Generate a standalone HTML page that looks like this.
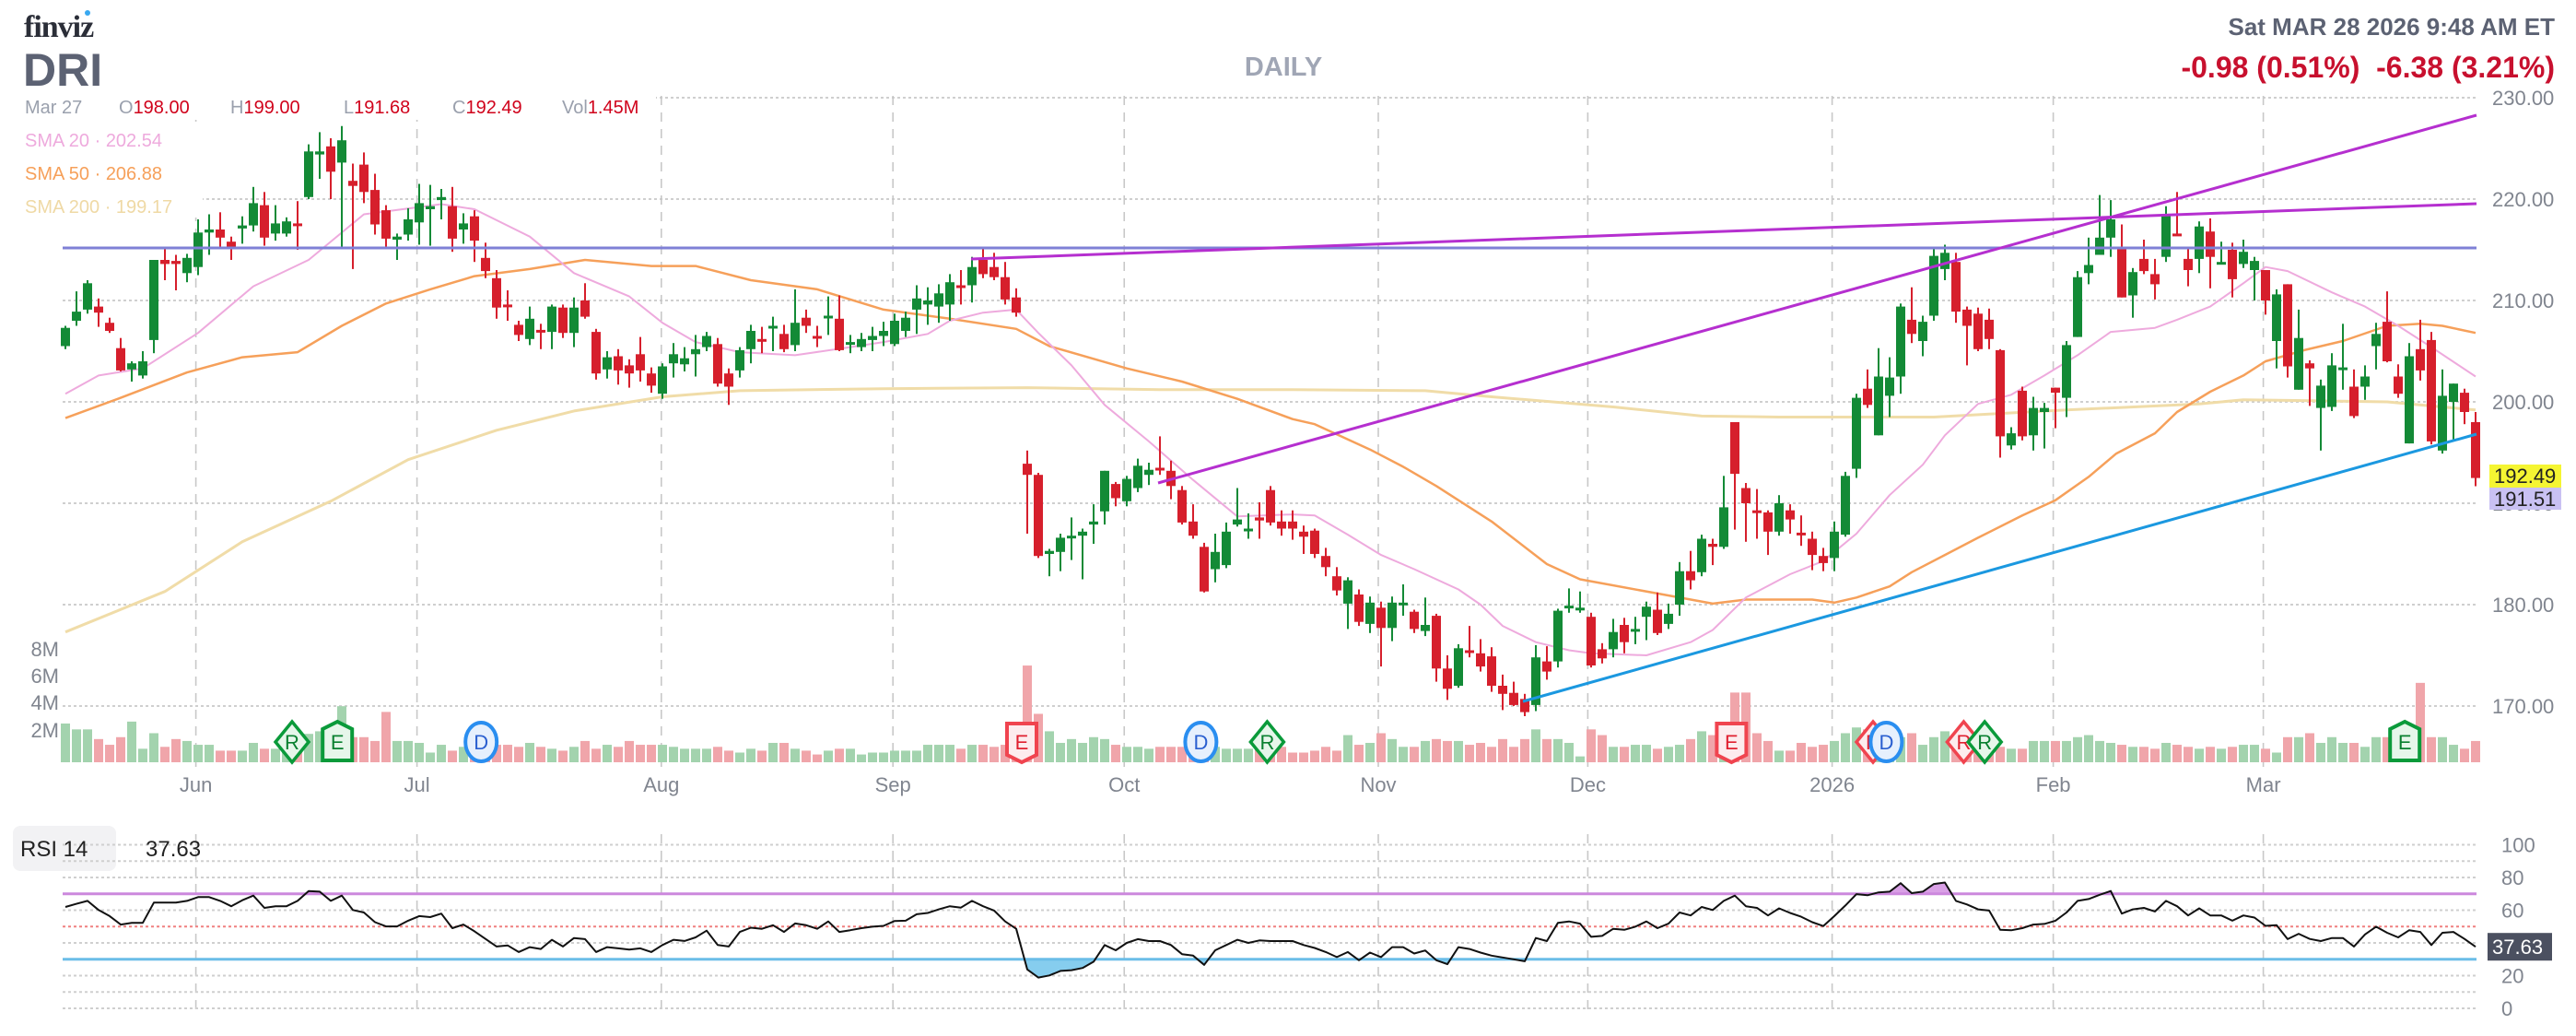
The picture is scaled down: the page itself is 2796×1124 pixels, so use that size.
<!DOCTYPE html>
<html><head><meta charset="utf-8">
<style>
html,body{margin:0;padding:0;background:#fff;}
svg{display:block;font-family:"Liberation Sans",sans-serif;}
</style></head>
<body>
<svg id="chart" width="2796" height="1124" viewBox="0 0 2796 1124" xmlns="http://www.w3.org/2000/svg">
  <rect x="0" y="0" width="2796" height="1124" fill="#fff"/>
  <g id="grid"></g>
  <g id="smas"></g>
  <g id="vols"></g>
  <g id="candles"></g>
  <g id="trend">
    <line x1="68" y1="269" x2="2688" y2="269" stroke="#7f80d6" stroke-width="3"/>
    <line x1="1054" y1="281" x2="2688" y2="221" stroke="#b52fcf" stroke-width="3"/>
    <line x1="1257" y1="524" x2="2688" y2="125" stroke="#b52fcf" stroke-width="3"/>
    <line x1="1653" y1="761" x2="2688" y2="471" stroke="#1b98e0" stroke-width="3"/>
  </g>
  <g id="markers"></g>
  <g id="rsi"></g>
  <g id="labels">
    <text x="26" y="40" font-family="Liberation Serif,serif" font-weight="bold" font-size="34" fill="#2b2e38" letter-spacing="-1">finviz</text>
    <circle cx="95" cy="14" r="3" fill="#39a8f0"/>
    <text x="25" y="93" font-weight="bold" font-size="50" fill="#5c6273">DRI</text>
    <text x="1393" y="82" text-anchor="middle" font-weight="bold" font-size="29" fill="#a0a6b5">DAILY</text>
    <text x="2773" y="38" text-anchor="end" font-weight="bold" font-size="26" fill="#5c6273">Sat MAR 28 2026 9:48 AM ET</text>
    <text x="2773" y="84" text-anchor="end" font-weight="bold" font-size="32" fill="#c8102e" xml:space="preserve">-0.98 (0.51%)  -6.38 (3.21%)</text>
    <rect x="20" y="104" width="692" height="26" fill="#fff"/>
    <text font-size="20" y="123"><tspan x="27" fill="#9aa0ad">Mar 27</tspan><tspan x="129" fill="#9aa0ad">O</tspan><tspan fill="#d0021b">198.00</tspan><tspan x="250" fill="#9aa0ad">H</tspan><tspan fill="#d0021b">199.00</tspan><tspan x="373" fill="#9aa0ad">L</tspan><tspan fill="#d0021b">191.68</tspan><tspan x="491" fill="#9aa0ad">C</tspan><tspan fill="#d0021b">192.49</tspan><tspan x="610" fill="#9aa0ad">Vol</tspan><tspan fill="#d0021b">1.45M</tspan></text>
    <rect x="20" y="140" width="200" height="96" fill="#fff"/>
    <text x="27" y="159" font-size="20" fill="#eeaadd">SMA 20 · 202.54</text>
    <text x="27" y="195" font-size="20" fill="#f6a05a">SMA 50 · 206.88</text>
    <text x="27" y="231" font-size="20" fill="#efd9a5">SMA 200 · 199.17</text>
  </g>
</svg>
<script>
const open_=[205.5,208.0,209.1,209.4,207.8,205.3,203.2,202.6,206.1,214.0,213.9,212.7,213.3,216.7,217.0,215.8,217.1,217.4,219.4,216.6,216.6,217.6,220.2,224.4,225.2,223.6,221.8,223.4,220.9,218.9,216.0,216.5,217.7,219.0,219.9,219.3,217.0,218.3,214.2,212.2,209.6,207.6,206.2,207.1,206.9,209.3,206.8,210.0,206.9,203.2,204.5,203.6,204.7,202.8,200.8,203.8,203.7,204.7,205.4,205.7,202.8,203.1,205.2,206.2,207.3,206.7,205.6,208.3,206.5,208.3,208.2,205.8,205.4,206.1,206.5,205.7,207.0,209.1,209.6,209.4,209.6,211.5,211.5,214.0,213.3,212.3,210.3,193.9,192.8,185.0,185.2,186.7,186.8,187.9,189.2,191.9,190.2,191.5,192.8,193.5,193.2,191.3,188.2,185.7,183.5,183.9,187.9,187.4,188.6,191.3,188.2,188.2,187.2,187.3,184.8,182.8,180.1,181.0,178.1,179.7,177.7,180.1,179.3,177.4,178.9,173.7,172.0,175.5,175.2,174.9,172.0,171.3,170.7,170.1,174.4,174.4,179.8,179.6,178.8,175.6,175.6,178.0,177.5,178.8,179.5,178.1,180.0,183.3,183.2,186.0,185.7,198.0,191.5,189.3,189.1,187.2,189.3,187.1,186.5,184.8,184.6,186.9,193.4,201.3,196.7,200.6,202.5,208.1,206.0,208.5,213.1,213.8,209.1,208.7,208.1,205.1,195.7,201.1,196.7,199.0,201.4,200.4,206.4,212.7,214.5,216.2,215.1,210.5,214.1,212.6,214.3,216.6,214.1,214.1,216.8,213.6,215.0,213.6,213.0,213.0,206.0,211.6,201.2,203.8,199.4,199.5,203.3,201.5,201.5,205.5,207.9,202.5,195.9,205.2,206.1,195.2,200.0,200.9,198.0];
const high=[207.5,210.9,212.0,210.2,208.3,206.3,204.0,205.0,214.0,215.3,214.5,214.6,218.0,218.5,218.7,216.3,218.3,221.2,220.7,219.4,218.2,219.8,225.4,226.6,226.0,227.2,223.5,224.6,222.5,219.4,216.6,219.1,221.5,221.4,221.0,221.2,218.6,218.9,215.7,213.0,211.0,208.0,209.4,207.7,209.6,209.6,210.3,211.7,207.2,205.0,205.2,204.2,206.4,203.4,203.8,205.8,205.4,206.6,206.9,206.3,203.3,205.4,207.6,207.4,208.4,207.6,211.1,209.1,207.5,210.4,210.5,206.6,206.8,207.4,207.9,208.7,208.9,211.5,211.3,211.6,212.6,213.0,214.3,215.3,214.7,213.8,211.2,195.2,193.0,185.5,187.0,188.6,187.5,189.9,193.2,192.1,192.7,194.4,194.0,196.6,194.2,191.7,189.9,186.1,187.0,188.1,191.5,189.0,190.1,191.7,189.3,189.3,187.8,187.5,185.6,183.7,182.7,181.5,180.8,180.3,180.8,182.0,179.5,180.7,179.1,175.0,176.1,177.9,176.6,175.8,173.1,172.4,171.2,176.0,175.9,179.6,181.6,181.3,179.2,176.2,178.6,178.7,178.8,180.3,181.2,180.1,184.2,185.3,186.9,186.5,192.7,198.0,192.0,191.4,189.3,190.8,189.9,188.8,187.2,185.6,188.2,193.1,200.8,203.2,205.3,204.4,209.7,211.3,208.5,215.3,215.5,214.7,209.4,209.3,209.2,205.2,197.5,201.5,200.5,199.9,201.4,206.0,212.9,216.2,220.4,219.9,217.5,213.2,216.0,214.1,219.3,220.7,215.2,217.8,218.1,215.8,215.7,216.0,214.3,213.0,211.1,211.6,209.1,204.1,202.2,204.8,207.7,203.2,203.6,207.8,210.9,203.7,205.8,208.1,206.9,203.2,201.8,201.3,199.0];
const low=[205.2,207.5,208.7,207.4,206.8,203.0,202.0,202.3,204.8,212.0,211.0,211.8,212.5,214.5,215.3,214.0,215.6,216.8,215.4,215.9,216.3,215.0,220.0,222.0,220.0,215.2,213.1,219.6,216.5,215.2,214.0,215.9,215.5,215.4,218.0,214.8,215.6,213.8,212.2,208.2,208.0,206.0,205.6,205.2,205.2,206.3,205.4,208.2,202.2,202.3,201.7,201.4,202.0,200.9,200.3,202.4,203.0,202.5,205.0,201.5,199.7,202.4,203.8,204.8,205.0,204.9,205.0,206.8,205.4,206.6,205.0,204.8,205.0,205.0,205.5,205.5,206.4,206.7,207.6,207.8,208.0,209.6,209.8,212.2,212.0,209.6,208.4,187.0,184.6,182.8,183.3,184.4,182.5,186.0,187.9,189.7,189.7,191.1,191.8,192.8,190.4,187.9,186.5,181.2,182.2,183.6,187.7,186.5,186.5,187.8,186.8,186.4,185.0,184.6,182.8,180.9,177.6,177.9,177.2,173.9,176.4,178.9,177.2,176.9,172.4,170.6,171.8,174.8,173.4,171.4,169.6,170.0,169.0,169.5,172.6,173.8,179.2,179.2,173.8,174.2,174.8,175.2,176.1,176.5,177.0,177.6,178.9,181.5,182.8,183.9,185.5,187.4,186.2,186.5,184.9,186.8,187.0,185.8,183.4,183.3,183.3,186.7,192.5,199.4,196.7,198.5,200.8,205.8,204.5,208.0,212.0,207.8,203.6,205.0,205.2,194.5,195.3,196.2,195.2,195.4,197.4,198.5,206.4,211.6,214.5,214.3,210.3,208.3,212.6,210.1,213.8,216.5,211.4,212.7,211.2,213.6,210.3,213.2,210.0,208.6,203.3,202.4,201.2,199.6,195.2,199.1,201.2,198.4,200.2,203.2,203.9,200.4,195.9,202.1,195.8,194.9,196.1,197.8,191.68];
const close=[207.3,208.9,211.7,208.8,207.0,203.1,203.8,204.0,214.0,213.6,213.6,214.2,216.7,217.0,216.2,215.1,217.4,219.6,216.2,217.6,217.8,217.5,224.7,224.7,222.7,225.8,221.3,220.7,217.5,216.1,216.3,218.0,219.6,219.3,220.2,216.1,217.6,215.9,212.9,209.3,209.5,206.6,208.2,207.0,209.4,206.8,209.3,208.4,202.8,204.4,203.1,202.8,203.1,201.6,203.5,204.7,204.3,205.2,206.5,201.8,201.5,205.1,207.0,206.0,207.5,205.2,207.8,207.5,206.4,208.5,205.1,205.9,206.2,206.5,207.0,208.0,208.3,210.2,210.0,210.7,211.8,211.4,213.3,212.6,212.3,210.1,208.8,192.8,184.8,185.3,186.6,186.8,187.2,188.2,193.2,190.5,192.4,193.7,193.3,193.4,191.7,188.1,186.8,181.3,185.2,187.2,188.4,187.5,188.3,188.1,187.5,187.5,186.7,185.0,183.7,181.4,182.4,178.3,180.2,177.7,180.2,180.2,177.6,178.0,173.7,171.7,175.7,175.4,173.9,172.0,171.2,170.1,169.4,174.8,173.4,179.4,179.9,179.7,174.0,174.7,177.3,176.3,177.6,179.8,177.2,179.1,183.3,182.4,186.5,185.7,189.6,192.9,190.0,189.2,187.2,190.0,188.4,187.0,184.9,184.1,187.2,192.7,200.4,199.7,202.5,202.4,209.4,206.7,207.9,214.4,214.7,208.9,207.5,205.2,206.2,196.6,196.9,196.6,199.4,199.4,200.9,205.6,212.3,213.5,216.2,218.0,210.3,212.8,212.9,211.6,218.5,216.5,213.0,217.3,214.3,213.8,212.1,214.8,213.9,210.0,210.6,203.5,206.3,203.3,201.6,203.6,203.4,198.6,202.5,206.7,204.0,200.8,204.5,203.1,196.1,200.6,201.8,199.0,192.49];
const volumeM=[2.84,2.41,2.41,1.70,1.28,1.84,2.98,0.99,2.13,1.13,1.70,1.56,1.28,1.28,0.85,0.85,0.85,1.42,0.99,0.99,0.85,1.13,2.08,2.27,1.13,4.11,1.84,1.84,1.56,3.69,1.56,1.56,1.42,0.71,1.28,0.85,1.13,0.99,1.28,1.28,1.28,1.13,1.42,1.13,0.99,0.85,1.13,1.56,0.99,1.28,1.13,1.56,1.28,1.28,1.28,1.13,0.99,0.99,0.99,1.13,0.85,0.71,0.99,0.85,1.42,1.42,0.99,0.85,0.57,0.85,0.99,0.99,0.57,0.71,0.71,0.85,0.85,0.85,1.28,1.28,1.28,0.99,1.28,1.28,1.13,1.28,1.13,7.09,3.55,2.27,1.42,1.70,1.42,1.84,1.70,1.28,1.13,1.13,0.99,1.13,1.13,1.13,1.13,1.13,1.13,0.99,0.99,0.99,0.99,1.13,1.13,0.71,0.71,0.85,1.13,0.85,1.99,1.28,1.42,2.13,1.70,1.13,1.13,1.56,1.70,1.56,1.56,1.28,1.42,1.13,1.70,1.13,1.70,2.41,1.70,1.70,1.42,0.43,2.41,1.99,1.13,1.13,1.28,1.28,0.99,1.13,1.28,1.70,2.27,1.99,1.13,5.11,5.11,2.13,1.56,0.85,0.85,1.42,1.13,1.28,1.56,2.13,2.55,2.41,1.84,1.84,1.84,2.13,1.28,1.84,2.27,1.42,0.99,1.28,1.28,1.13,0.99,0.99,1.56,1.56,1.56,1.56,1.84,1.99,1.56,1.42,1.28,1.13,1.13,0.99,1.42,1.28,1.13,0.99,1.13,0.99,1.13,1.28,1.28,0.99,0.71,1.84,1.84,2.13,1.42,1.84,1.42,1.42,1.13,1.84,1.84,0.99,1.84,5.82,1.84,1.84,1.28,0.99,1.56];
const rsiValues=[62,63.9,65.7,60.1,56.4,51.2,52.3,52.3,64.6,64.6,64.6,65.7,68,68,65.7,62.4,66.1,68.9,61.4,62.4,62.4,65.7,71.7,71.3,65.7,68.9,60.1,58.6,52.7,50.1,50.1,53.6,56.4,55.8,57.9,49,51.2,47.1,42.4,37.8,38.5,34.4,37.4,36.3,41.9,37.8,43,42.3,34.4,37.4,36.7,35.9,36.7,34.4,38.7,41.9,41.2,43.4,47.5,38.7,37.8,46.7,49.3,48.6,50.8,46.7,51.9,50.8,48.6,53.1,46.7,47.8,49,49.9,50.4,53.4,53.6,57.5,58.3,60.5,62.4,61.6,65.7,62.4,59.8,53.1,48.6,23.8,18.8,20.1,22.9,23.3,24.7,28.5,38.7,35.5,40,42.3,41.1,41.1,38.7,33.1,32.2,26.6,35.5,38.7,41.9,40,41.5,41.1,41.1,41.1,38.7,36.9,34.4,31.3,34.4,29.4,34.1,31.3,37.4,37.4,33.5,35.4,29.4,27,37.4,36.3,34.1,32.2,31.1,30,28.8,43,41.1,52.3,53.1,51.8,43.7,44.3,48.6,48,49.9,53.1,49,51.8,58.6,56.8,62,60.1,65.7,68.9,62.4,61.4,56.8,61.1,58.3,56,52.7,50.3,56.4,62.9,69.8,69.1,70.9,71.3,76.5,70.4,71.3,76,76.9,65.7,63.5,60.5,59.8,48,47.7,49,51.2,51.6,53.6,58.6,65.7,66.8,69.4,71.7,57.9,60.5,61.4,59.2,65.7,62.4,56.8,61.1,56.8,56.8,53.6,56.8,55.5,50.4,50.8,42.3,45.6,42.4,41.1,43,43,37.8,45.2,49.9,46.2,43.4,47.8,46.7,38.7,46.2,46.7,42.4,37.63];
const sma20=[[1,200.8],[4,202.6],[8,203.3],[13,206.8],[18,211.4],[23,214],[28,218.5],[35,219.5],[38,219],[43,216.3],[47,212.7],[52,210.4],[55,207.8],[58,205.9],[62,204.9],[67,204.6],[72,205.4],[75,205.9],[79,206.7],[81,208],[84,208.8],[87,209.1],[89,206.8],[92,203.6],[95,199.7],[99,196.1],[103,192.3],[107,188.7],[112,188.9],[114,188.8],[117,186.9],[120,184.9],[123,183.5],[127,181.5],[129,180],[131,177.9],[134,176.3],[137,175.5],[139,175.2],[144,175],[148,176.3],[150,177.5],[153,180.7],[157,183],[160,184.3],[163,187],[166,190.8],[169,193.8],[171,196.7],[174,199.8],[177,200.7],[180,202.6],[183,204.6],[186,206.9],[190,207.3],[192,208.1],[195,209.4],[198,211.7],[200,213.3],[202,212.9],[206,210.8],[209,209.4],[212,207.5],[215,205.4],[219,202.5]];
const sma50=[[1,198.4],[6,200.4],[12,202.9],[17,204.4],[22,204.9],[26,207.5],[30,209.7],[34,211.1],[38,212.4],[43,213.1],[48,214],[54,213.4],[58,213.4],[63,212],[69,211.1],[75,209.1],[81,208.2],[87,207.2],[90,205.5],[97,203.3],[102,202],[107,200.3],[112,198.3],[114,197.8],[119,195.3],[122,193.6],[125,191.7],[130,188.2],[135,184],[138,182.5],[145,181.1],[150,180.1],[153,180.5],[159,180.5],[161,180.2],[163,180.7],[166,181.8],[168,183.2],[171,184.9],[174,186.6],[178,188.8],[181,190.3],[184,192.6],[186.5,194.9],[190,196.9],[192,199],[195,201],[198,202.6],[200,204],[203.5,205.1],[207,206],[211,207.5],[214,207.7],[216,207.5],[219,206.8]];
const sma200=[[1,177.3],[10,181.3],[17,186.2],[25,190.2],[32,194.3],[40,197.2],[47,199.1],[55,200.5],[62,201.1],[75,201.3],[88,201.4],[100,201.2],[112,201.2],[124,201.1],[130,200.5],[141,199.5],[149,198.6],[156,198.5],[170,198.5],[175,198.8],[182,199.2],[194,199.8],[198,200.2],[205,200.1],[211,200],[219,199.2]];
const priceTicks=[230,220,210,200,190,180,170];
const volTicks=["8M","6M","4M","2M"];
const monthLabels=["Jun","Jul","Aug","Sep","Oct","Nov","Dec","2026","Feb","Mar"];
const monthIndex=[12.8,32.8,54.9,75.85,96.77,119.75,138.7,160.8,180.8,199.8];
const rsiTicks=[100,80,60,40,20,0];
const markerTypes=["R","E","D","E","D","R","E","Rr","D","Rr","R","E"];
const markerColors=["g","gu","b","r","b","g","r","r","b","r","g","gu"];
const markerIndex=[21.5,25.6,38.6,87.5,103.7,109.7,151.7,164.5,165.7,172.7,174.6,212.6];

const NS="http://www.w3.org/2000/svg";
const X0=71, STEP=12, PL=68, PR=2688;
const xOf=n=>X0+STEP*(n-1);
const yP=p=>106+(230-p)*11;
const VBASE=827, VSC=14.8;
const yV=v=>VBASE-v*VSC;
const yR=v=>1094-1.775*v;
function mk(tag,attrs,parent){const e=document.createElementNS(NS,tag);for(const k in attrs)e.setAttribute(k,attrs[k]);parent.appendChild(e);return e;}

const grid=document.getElementById('grid');
priceTicks.forEach(p=>{
  const l=mk('line',{x1:PL,x2:PR,y1:yP(p),y2:yP(p),stroke:'#cfcfcf','stroke-width':2,'stroke-dasharray':'3,3'},grid);
  
  
  const t=mk('text',{x:2705,y:yP(p)+8,'font-size':22,fill:'#80858f'},grid);
  t.textContent=p.toFixed(2);
  
  
});
monthLabels.forEach((m,i)=>{
  const x=xOf(monthIndex[i]);
  const l=mk('line',{x1:x,x2:x,y1:104,y2:832,stroke:'#c8c8c8','stroke-width':1.6,'stroke-dasharray':'10,8'},grid);
  
  
  const l2=mk('line',{x1:x,x2:x,y1:905,y2:1095,stroke:'#c8c8c8','stroke-width':1.6,'stroke-dasharray':'10,8'},grid);
  
  
  const t=mk('text',{x:x,y:859,'text-anchor':'middle','font-size':22,fill:'#80858f'},grid);
  t.textContent=m;
  
  
});
const volY=[704,733,762,792];
volTicks.forEach((v,i)=>{
  const t=mk('text',{x:64,y:volY[i]+8,'text-anchor':'end','font-size':22,fill:'#80858f'},grid);
  t.textContent=v;
  
  
});

const smaG=document.getElementById('smas');
[[sma200,'#f0dca8',3,'sma200-line'],[sma50,'#f6a05a',2.5,'sma50-line'],[sma20,'#eeaadd',2,'sma20-line']].forEach(s=>{
  const d=s[0].map((pt,i)=>(i?'L':'M')+xOf(pt[0]).toFixed(1)+','+yP(pt[1]).toFixed(1)).join('');
  const p=mk('path',{d:d,fill:'none',stroke:s[1],'stroke-width':s[2],'stroke-linejoin':'round'},smaG);
  
  
});

const vg=document.getElementById('vols');
volumeM.forEach((v,i)=>{
  const up=close[i]>=open_[i];
  const r=mk('rect',{x:xOf(i+1)-5,y:yV(v),width:10,height:v*VSC,fill:up?'#a3d3ae':'#f0a5aa'},vg);
  
  
});

const cg=document.getElementById('candles');
close.forEach((c,i)=>{
  const o=open_[i],x=xOf(i+1),up=c>=o,col=up?'#138a36':'#d61f2c';
  const g=mk('g',{},cg);
  
  
  mk('line',{x1:x,x2:x,y1:yP(high[i]),y2:yP(low[i]),stroke:col,'stroke-width':2},g);
  const top=yP(Math.max(o,c)),h=Math.max(3,Math.abs(yP(o)-yP(c)));
  mk('rect',{x:x-5,y:top,width:10,height:h,fill:col},g);
});

const lab=document.getElementById('labels');
const t1=mk('rect',{x:2702,y:504,width:78,height:25,fill:'#f5f532'},lab);


const tt1=mk('text',{x:2707,y:524,'font-size':22,fill:'#222'},lab);tt1.textContent='192.49';


const t2=mk('rect',{x:2702,y:529,width:78,height:24,fill:'#c9c1f3'},lab);


const tt2=mk('text',{x:2707,y:549,'font-size':22,fill:'#222'},lab);tt2.textContent='191.51';



const mg=document.getElementById('markers');
const pal={g:['#0a9a3a','#e6f6ea','#0a8030'],gu:['#0a9a3a','#e6f6ea','#0a8030'],r:['#f0444f','#fdecee','#e02030'],b:['#2a8ef0','#e6f0fd','#2a5fd0']};
markerTypes.forEach((t,i)=>{
  const x=xOf(markerIndex[i]),cy=805,c=pal[markerColors[i]];
  const g=mk('g',{},mg);
  
  
  const letter=t.charAt(0);
  if(letter==='R'){
    mk('path',{d:`M${x},${cy-22}L${x+18},${cy}L${x},${cy+22}L${x-18},${cy}Z`,fill:c[1],stroke:c[0],'stroke-width':3.5},g);
  }else if(letter==='D'){
    mk('ellipse',{cx:x,cy:cy,rx:17,ry:21,fill:c[1],stroke:c[0],'stroke-width':4},g);
  }else if(markerColors[i]==='gu'){
    mk('path',{d:`M${x-16},${cy+20}L${x-16},${cy-14}L${x},${cy-22}L${x+16},${cy-14}L${x+16},${cy+20}Z`,fill:c[1],stroke:c[0],'stroke-width':4},g);
  }else{
    mk('path',{d:`M${x-16},${cy-20}L${x+16},${cy-20}L${x+16},${cy+14}L${x},${cy+22}L${x-16},${cy+14}Z`,fill:c[1],stroke:c[0],'stroke-width':4},g);
  }
  const tx=mk('text',{x:x,y:cy+8,'text-anchor':'middle','font-size':22,fill:c[2]},g);
  tx.textContent=letter;
});

const rg=document.getElementById('rsi');
const bx=mk('rect',{x:14,y:896,width:112,height:49,rx:8,fill:'#f2f2f4'},rg);


[100,90,80,60,40,20,10,0].forEach(v=>{
  const l=mk('line',{x1:PL,x2:PR,y1:yR(v),y2:yR(v),stroke:'#cfcfcf','stroke-width':2,'stroke-dasharray':'3,3'},rg);
  
  
});
const l50=mk('line',{x1:PL,x2:PR,y1:yR(50),y2:yR(50),stroke:'#f08080','stroke-width':2,'stroke-dasharray':'3,3'},rg);


rsiTicks.forEach(v=>{
  const t=mk('text',{x:2715,y:yR(v)+8,'font-size':22,fill:'#80858f'},rg);
  t.textContent=v;
  
  
});
const pts=rsiValues.map((v,i)=>[xOf(i+1),yR(v)]);
const lineD=pts.map((p,i)=>(i?'L':'M')+p[0].toFixed(1)+','+p[1].toFixed(1)).join('');
const defs=mk('defs',{},rg);
const c1=mk('clipPath',{id:'obClip'},defs);mk('rect',{x:0,y:0,width:2796,height:yR(70)},c1);
const c2=mk('clipPath',{id:'osClip'},defs);mk('rect',{x:0,y:yR(30),width:2796,height:200},c2);
const fOb=mk('path',{d:lineD+`L${pts[pts.length-1][0]},${yR(70)}L${pts[0][0]},${yR(70)}Z`,fill:'#d9a0e6','clip-path':'url(#obClip)'},rg);


const fOs=mk('path',{d:lineD+`L${pts[pts.length-1][0]},${yR(30)}L${pts[0][0]},${yR(30)}Z`,fill:'#86cdee','clip-path':'url(#osClip)'},rg);


const l70=mk('line',{x1:PL,x2:PR,y1:yR(70),y2:yR(70),stroke:'#cc88dd','stroke-width':3},rg);


const l30=mk('line',{x1:PL,x2:PR,y1:yR(30),y2:yR(30),stroke:'#6bbde8','stroke-width':3},rg);


const rl=mk('path',{d:lineD,fill:'none',stroke:'#111','stroke-width':2,'stroke-linejoin':'round'},rg);


const rt=mk('text',{x:22,y:929,'font-size':24,fill:'#222'},rg);rt.textContent='RSI 14';


const rv=mk('text',{x:158,y:929,'font-size':24,fill:'#222'},rg);rv.textContent='37.63';


const rb=mk('rect',{x:2700,y:yR(37.63)-15,width:70,height:30,fill:'#4b5060'},rg);


const rbt=mk('text',{x:2705,y:yR(37.63)+8,'font-size':22,fill:'#fff'},rg);rbt.textContent='37.63';


</script>
</body></html>
